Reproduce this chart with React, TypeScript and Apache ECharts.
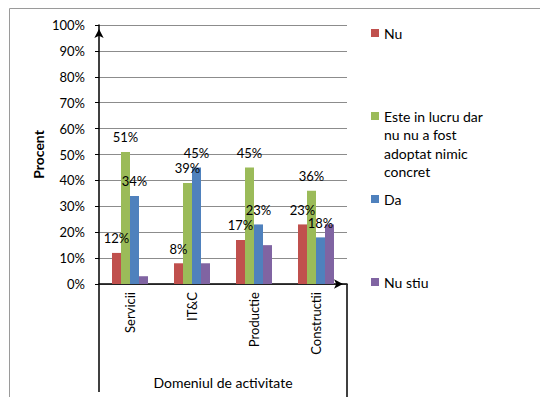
import React, { useEffect, useRef } from "react";
import * as echarts from "echarts";

// Survey results by field of activity (percent of respondents)
const categories = ["Servicii", "IT&C", "Productie", "Constructii"];
const seriesNames = [
  "Nu",
  "Este in lucru dar nu nu a fost adoptat nimic concret",
  "Da",
  "Nu stiu",
];
const nuValues = [12, 8, 17, 23];
const inLucruValues = [51, 39, 45, 36];
const daValues = [34, 45, 23, 18];
const nuStiuValues = [3, 8, 15, 23];
const labelledSeries = [true, true, true, false];
const colors = ["#C0504D", "#9BBB59", "#4F81BD", "#8064A2"];

const W = 540;
const H = 397;
const FONT = "Lato, 'Open Sans', sans-serif";
const GRID = { left: 99, right: 193, top: 25, bottom: 113 };
// legend marker centres (first text line)
const legendY = [33, 116, 199, 282];
const LEGEND_LINE_CHARS = 17;

// simple word wrap for the long legend entry
function wrap(text: string, max: number): string {
  const lines: string[] = [];
  let cur = "";
  for (const w of text.split(" ")) {
    const next = cur ? cur + " " + w : w;
    if (next.length > max && cur) {
      lines.push(cur);
      cur = w;
    } else {
      cur = next;
    }
  }
  if (cur) lines.push(cur);
  return lines.join("\n");
}

export default function App() {
  const ref = useRef<HTMLDivElement>(null);

  useEffect(() => {
    if (!ref.current) return;
    const chart = echarts.init(ref.current, undefined, { renderer: "svg" });
    const values = [nuValues, inLucruValues, daValues, nuStiuValues];
    const axisX = GRID.left;
    const axisX2 = W - GRID.right;
    const axisY = H - GRID.bottom;

    const legendGraphics: any[] = [];
    seriesNames.forEach((name, i) => {
      legendGraphics.push({
        type: "rect",
        shape: { x: 371, y: legendY[i] - 4, width: 8, height: 8 },
        style: { fill: colors[i] },
      });
      legendGraphics.push({
        type: "text",
        x: 384,
        y: legendY[i] - 9.25,
        style: {
          text: wrap(name, LEGEND_LINE_CHARS),
          font: `14px ${FONT}`,
          fill: "#000",
          lineHeight: 18.5,
          verticalAlign: "top",
        },
      });
    });

    chart.setOption({
      animation: false,
      backgroundColor: "#fff",
      textStyle: { fontFamily: FONT },
      grid: { ...GRID, containLabel: false, outerBoundsMode: "none" },
      xAxis: {
        type: "category",
        data: categories,
        name: "Domeniul de activitate",
        nameLocation: "middle",
        nameGap: 91,
        nameTextStyle: { fontSize: 14, color: "#000", fontFamily: FONT },
        axisLine: {
          lineStyle: { color: "#000", width: 1.5 },
          symbol: ["none", "arrow"],
          symbolSize: [7, 9],
          symbolOffset: [0, -4],
        },
        axisTick: { show: false },
        axisLabel: {
          rotate: 90,
          margin: 8,
          fontSize: 13,
          color: "#000",
          fontFamily: FONT,
        },
      },
      yAxis: {
        type: "value",
        min: 0,
        max: 100,
        interval: 10,
        name: "Procent",
        nameLocation: "middle",
        nameGap: 54,
        nameTextStyle: {
          fontSize: 14,
          fontWeight: "bold",
          color: "#000",
          fontFamily: FONT,
        },
        axisLine: {
          show: true,
          lineStyle: { color: "#000", width: 1.5 },
          symbol: ["none", "arrow"],
          symbolSize: [7, 9],
          symbolOffset: [0, -4],
        },
        axisTick: {
          show: true,
          length: 4,
          lineStyle: { color: "#000", width: 1 },
        },
        axisLabel: {
          formatter: "{value}%",
          margin: 14,
          fontSize: 13,
          color: "#000",
          fontFamily: FONT,
        },
        splitLine: { lineStyle: { color: "#8c8c8c", width: 1 } },
      },
      series: seriesNames.map((name, i) => ({
        name,
        type: "bar",
        data: values[i],
        barWidth: 9,
        barGap: "0%",
        itemStyle: { color: colors[i] },
        label: {
          show: labelledSeries[i],
          position: "top",
          distance: 8,
          formatter: "{c}%",
          fontSize: 13,
          color: "#000",
          fontFamily: FONT,
        },
      })),
      graphic: [
        {
          type: "polyline",
          shape: { points: [[9.5, H], [9.5, 8.5], [W, 8.5]] },
          style: { stroke: "#9a9a9a", lineWidth: 1, fill: "none" },
        },
        {
          type: "line",
          shape: { x1: axisX, y1: axisY, x2: axisX, y2: 392 },
          style: { stroke: "#000", lineWidth: 1.5 },
        },
        {
          type: "line",
          shape: { x1: axisX2, y1: axisY, x2: axisX2, y2: H },
          style: { stroke: "#000", lineWidth: 1.5 },
        },
        ...legendGraphics,
      ],
    });

    return () => chart.dispose();
  }, []);

  return (
    <div
      ref={ref}
      style={{ position: "fixed", left: 0, top: 0, width: W, height: H }}
    />
  );
}
